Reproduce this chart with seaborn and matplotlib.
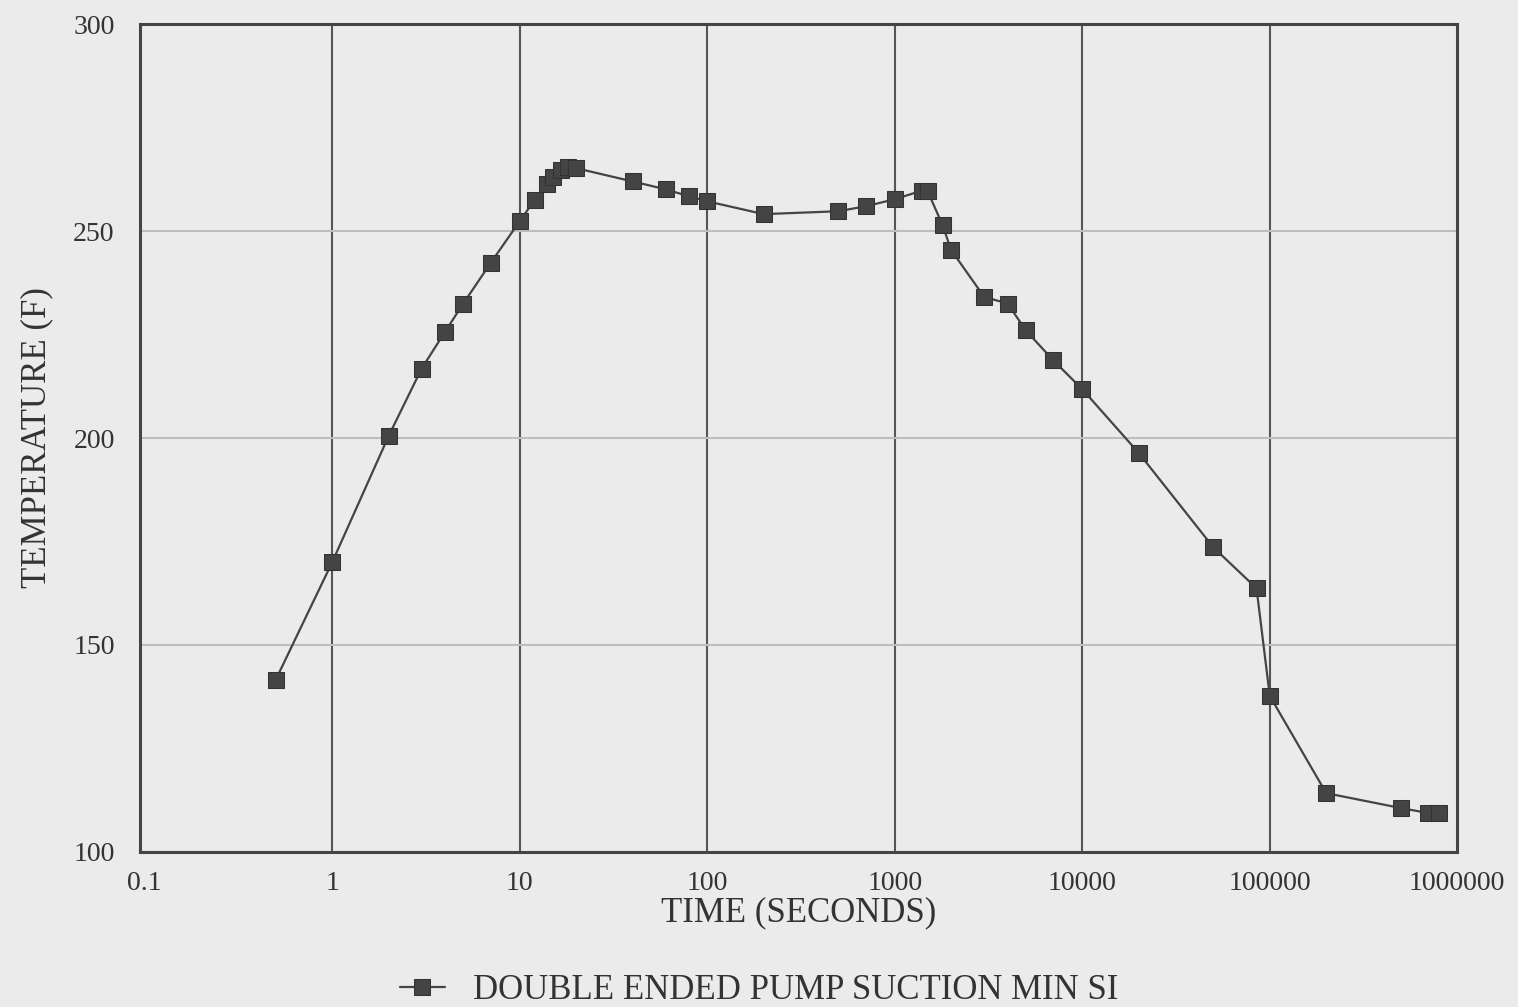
import matplotlib
matplotlib.use("Agg")
import matplotlib.pyplot as plt
import seaborn as sns
import pandas as pd
import numpy as np

time_s = [0.5, 1, 2, 3, 4, 5, 7, 10, 12, 14, 15, 16.5, 18, 20,
          40, 60, 80, 100, 200, 500, 700, 1000, 1400, 1500, 1800, 2000,
          3000, 4000, 5000, 7000, 10000, 20000, 50000, 85000, 100000,
          200000, 500000, 700000, 800000]
temp_f = [141.6, 170.0, 200.5, 216.8, 225.7, 232.5, 242.3, 252.4, 257.5, 261.5, 263.0, 264.7, 265.6, 265.2,
          262.0, 260.1, 258.4, 257.2, 254.1, 254.8, 256.0, 257.7, 259.8, 259.6, 251.4, 245.4,
          234.1, 232.5, 226.0, 218.8, 211.8, 196.4, 173.6, 163.7, 137.7,
          114.2, 110.6, 109.4, 109.4]
series_name = "DOUBLE ENDED PUMP SUCTION MIN SI"
x_ticks = [0.1, 1, 10, 100, 1000, 10000, 100000, 1000000]
x_tick_labels = ["0.1", "1", "10", "100", "1000", "10000", "100000", "1000000"]
y_ticks = [100, 150, 200, 250, 300]

df = pd.DataFrame({"time": time_s, "temp": temp_f, "series": series_name})

sns.set_theme(style="white")
plt.rcParams["font.family"] = ["Liberation Serif", "DejaVu Serif"]

bg = "#ebebeb"
fig = plt.figure(figsize=(15.18, 10.07), dpi=100, facecolor=bg)
ax = fig.add_axes([0.092, 0.154, 0.868, 0.822])
ax.set_facecolor(bg)

sns.lineplot(data=df, x="time", y="temp", hue="series", palette=["#444444"],
             marker="s", markersize=11, markeredgecolor="#333333", linewidth=1.6,
             sort=False, ax=ax, legend=True)

ax.set_xscale("log")
ax.set_xlim(0.094, 1000000)
ax.set_ylim(100, 300)
ax.set_xticks(x_ticks)
ax.set_xticklabels(x_tick_labels)
ax.minorticks_off()
ax.set_yticks(y_ticks)
ax.tick_params(axis="both", length=0, labelsize=20, colors="#333333")
ax.tick_params(axis="x", pad=14)
ax.tick_params(axis="y", pad=18)

ax.grid(axis="x", color="#555555", linewidth=1.5)
ax.grid(axis="y", color="#bdbdbd", linewidth=1.5)
xgl = ax.get_xgridlines()
xgl[0].set_visible(False)
xgl[-1].set_visible(False)
for s in ax.spines.values():
    s.set_color("#444444")
    s.set_linewidth(2.2)

ax.set_xlabel("TIME (SECONDS)", fontsize=25, color="#333333", labelpad=0)
ax.set_ylabel("TEMPERATURE (F)", fontsize=25, color="#333333", labelpad=14)

h, l = ax.get_legend_handles_labels()
ax.legend(h, l, loc="upper center", bbox_to_anchor=(0.47, -0.11), frameon=False,
          fontsize=25, handlelength=1.3, handletextpad=0.8, labelcolor="#333333")

fig.savefig("out.png", dpi=100, facecolor=bg)
